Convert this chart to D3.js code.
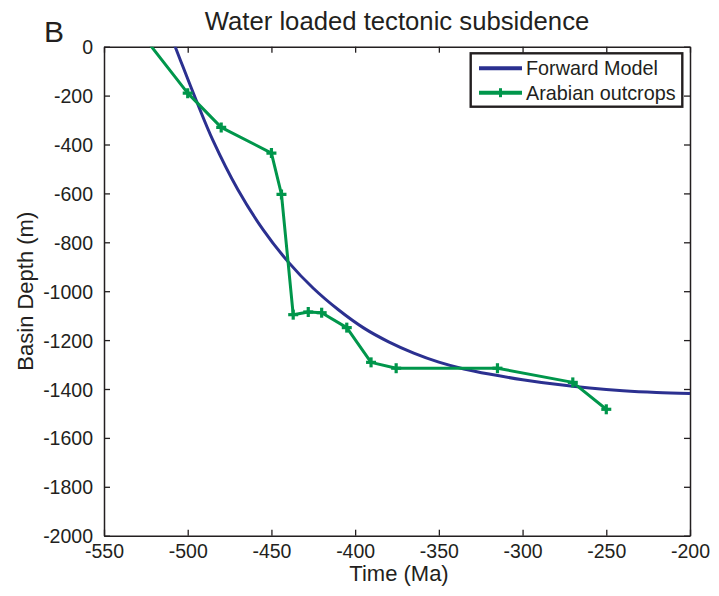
<!DOCTYPE html>
<html>
<head>
<meta charset="utf-8">
<script src="https://cdn.jsdelivr.net/npm/d3@7"></script>
<style>
  html, body { margin: 0; padding: 0; background: #fff; }
  svg { display: block; }
  text { font-family: "Liberation Sans", Arial, Helvetica, sans-serif; fill: #231f20; }
</style>
</head>
<body>
<svg id="chart" width="719" height="596"></svg>
<script>
// Forward model (thermal subsidence curve), time in Ma, depth in m
const modelTime  = [-510, -507.5, -505, -495, -485, -470, -455, -440, -425, -410, -395, -380, -365, -350, -335, -320, -300, -280, -260, -240, -220, -200];
const modelDepth = [  44,      0,  -44, -218, -382, -585, -748, -880, -988, -1076, -1150, -1207, -1253, -1290, -1318, -1339, -1362, -1381, -1396, -1407, -1414, -1418];

// Arabian outcrop backstripped subsidence
const outcropTime  = [-533, -500, -480, -450, -444, -437, -428, -420, -405, -390.5, -375.5, -315, -270, -250];
const outcropDepth = [ 100, -190, -330, -435, -604, -1096, -1085, -1088, -1149, -1291, -1315, -1315, -1373, -1483];

const xTicks = [-550, -500, -450, -400, -350, -300, -250, -200];
const yTicks = [0, -200, -400, -600, -800, -1000, -1200, -1400, -1600, -1800, -2000];

const seriesNames = ["Forward Model", "Arabian outcrops"];
const blue = "#2b3090";
const green = "#00964b";
const ink = "#231f20";

const svg = d3.select("#chart");
const m = { left: 104, right: 690, top: 46.7, bottom: 535.7 };

const x = d3.scaleLinear().domain([-550, -200]).range([m.left, m.right]);
const y = d3.scaleLinear().domain([0, -2000]).range([m.top, m.bottom]);

svg.append("defs").append("clipPath").attr("id", "plotClip")
  .append("rect")
  .attr("x", m.left).attr("y", m.top)
  .attr("width", m.right - m.left).attr("height", m.bottom - m.top);

// plain hyphen-minus labels
const fmt = d => String(d);

// Axes box with inward ticks on all four sides
function styleAxis(g) {
  g.selectAll("path.domain").attr("stroke", ink).attr("stroke-width", 1.5);
  g.selectAll(".tick line").attr("stroke", ink).attr("stroke-width", 1.3);
  g.selectAll(".tick text").attr("fill", ink).style("font-size", "19.5px")
    .style("font-family", '"Liberation Sans", Arial, sans-serif');
}

const xBottom = svg.append("g").attr("transform", `translate(0,${m.bottom})`)
  .call(d3.axisBottom(x).tickValues(xTicks).tickSize(-6).tickSizeOuter(0).tickPadding(0).tickFormat(fmt));
styleAxis(xBottom);
xBottom.selectAll(".tick text").attr("y", 22.5).attr("dy", null);

const xTop = svg.append("g").attr("transform", `translate(0,${m.top})`)
  .call(d3.axisTop(x).tickValues(xTicks).tickSize(-6).tickSizeOuter(0).tickFormat(""));
styleAxis(xTop);

const yLeft = svg.append("g").attr("transform", `translate(${m.left},0)`)
  .call(d3.axisLeft(y).tickValues(yTicks).tickSize(-6).tickSizeOuter(0).tickPadding(0).tickFormat(fmt));
styleAxis(yLeft);
yLeft.selectAll(".tick text").attr("x", -11).attr("dy", "0.36em");

const yRight = svg.append("g").attr("transform", `translate(${m.right},0)`)
  .call(d3.axisRight(y).tickValues(yTicks).tickSize(-6).tickSizeOuter(0).tickFormat(""));
styleAxis(yRight);

// Data layers
const plot = svg.append("g").attr("clip-path", "url(#plotClip)");

const modelPts = modelTime.map((t, i) => [t, modelDepth[i]]);
const outcropPts = outcropTime.map((t, i) => [t, outcropDepth[i]]);

plot.append("path")
  .datum(modelPts)
  .attr("fill", "none")
  .attr("stroke", blue)
  .attr("stroke-width", 3)
  .attr("d", d3.line().x(d => x(d[0])).y(d => y(d[1])).curve(d3.curveCatmullRom.alpha(0.5)));

plot.append("path")
  .datum(outcropPts)
  .attr("fill", "none")
  .attr("stroke", green)
  .attr("stroke-width", 3)
  .attr("stroke-linejoin", "round")
  .attr("d", d3.line().x(d => x(d[0])).y(d => y(d[1])));

// "+" markers at each outcrop sample
const half = 5;
plot.selectAll("g.mark")
  .data(outcropPts)
  .join("g")
  .attr("class", "mark")
  .attr("transform", d => `translate(${x(d[0])},${y(d[1])})`)
  .each(function () {
    const g = d3.select(this);
    g.append("line").attr("x1", -half).attr("x2", half).attr("y1", 0).attr("y2", 0)
      .attr("stroke", green).attr("stroke-width", 3.2);
    g.append("line").attr("x1", 0).attr("x2", 0).attr("y1", -half).attr("y2", half)
      .attr("stroke", green).attr("stroke-width", 3.2);
  });

// Legend
const lg = svg.append("g");
lg.append("rect")
  .attr("x", 470.7).attr("y", 53.3).attr("width", 211.6).attr("height", 53.4)
  .attr("fill", "#fff").attr("stroke", ink).attr("stroke-width", 2.4);
const legendColors = [blue, green];
seriesNames.forEach((name, i) => {
  const ly = 68.3 + i * 24.4;
  lg.append("line").attr("x1", 479).attr("x2", 522).attr("y1", ly).attr("y2", ly)
    .attr("stroke", legendColors[i]).attr("stroke-width", 4);
  if (i === 1) {
    lg.append("line").attr("x1", 500.5).attr("x2", 500.5).attr("y1", ly - 4.5).attr("y2", ly + 4.5)
      .attr("stroke", green).attr("stroke-width", 3);
  }
  lg.append("text").attr("x", 526).attr("y", ly + 7)
    .style("font-size", "19.8px").text(name);
});

// Titles and labels
svg.append("text").attr("x", (m.left + m.right) / 2).attr("y", 30)
  .attr("text-anchor", "middle").style("font-size", "25.7px")
  .text("Water loaded tectonic subsidence");

svg.append("text").attr("x", 44).attr("y", 41.7)
  .style("font-size", "30px").text("B");

svg.append("text").attr("x", (m.left + m.right) / 2 + 2).attr("y", 581)
  .attr("text-anchor", "middle").style("font-size", "22px")
  .text("Time (Ma)");

svg.append("text")
  .attr("transform", `translate(33,${(m.top + m.bottom) / 2}) rotate(-90)`)
  .attr("text-anchor", "middle").style("font-size", "22px")
  .text("Basin Depth (m)");
</script>
</body>
</html>
